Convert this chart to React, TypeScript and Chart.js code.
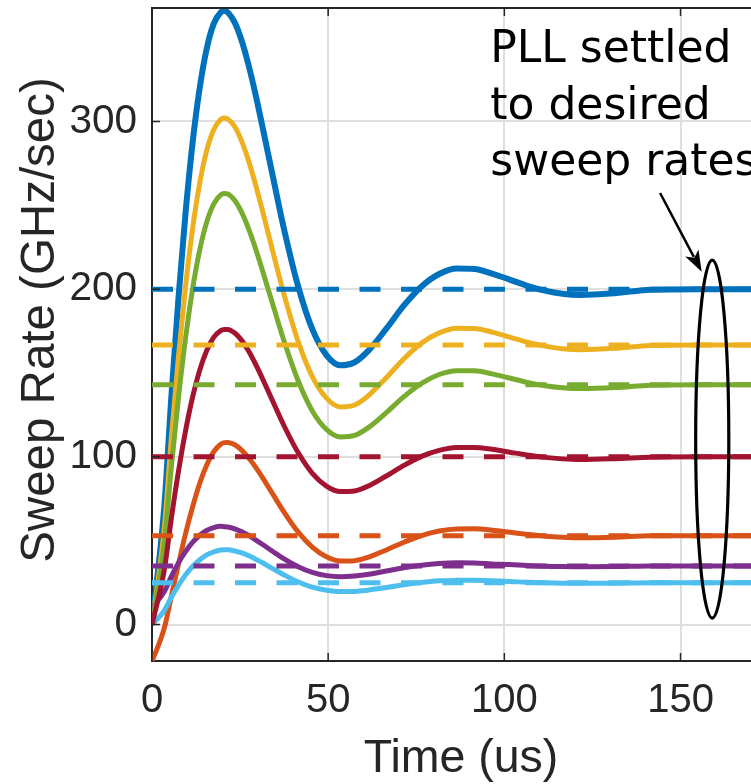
import React, { useEffect, useRef } from "react";
import { Chart, registerables } from "chart.js";

Chart.register(...registerables);

// ---------- data ----------
const TIME_US = [
  0, 3.5, 5.5, 7.5, 9.5, 11.5, 13.5, 15.5, 17.5, 19.5, 20.5, 21.5, 23.5, 25.5, 27.5,
  29.5, 31.5, 34.5, 37.5, 41.5, 45.5, 49.5, 53.5, 57.5, 61.5, 66.5, 71.5, 76.5, 81.5,
  86.5, 91.5, 96.5, 101.5, 106.5, 111.5, 116.5, 121.5, 131.5, 141.5, 155, 172,
];

const RATE_BLUE = [
  0, 70.6, 136.0, 194.5, 245.0, 286.9, 319.4, 343.1, 358.1, 365.0, 365.9, 365.0, 358.9,
  347.8, 332.8, 315.0, 295.4, 265.1, 235.5, 201.5, 176.1, 160.7, 154.6, 156.4, 163.5,
  176.4, 190.3, 201.6, 209.0, 212.3, 212.0, 209.3, 205.7, 202.0, 199.1, 197.2, 196.5,
  197.6, 199.7, 200, 200,
];
const RATE_ORANGE = [
  -22, -2, 17, 36, 54, 70, 84, 95, 103, 107.5, 108.5, 108.6, 107.2, 103.9, 99.2, 93.6,
  87.2, 77.0, 67.0, 55.1, 46.2, 40.4, 37.9, 38.1, 40.3, 44.5, 49.1, 53.1, 55.8, 57.0,
  57.1, 56.3, 55.1, 53.8, 52.7, 52.1, 51.8, 52.1, 52.9, 53, 53,
];
const RATE_YELLOW = [
  0, 57.7, 111.5, 159.6, 201.2, 235.8, 262.7, 282.4, 295.0, 301.2, 302.0, 301.4, 296.8,
  287.9, 275.9, 261.4, 245.5, 220.7, 196.6, 168.7, 147.8, 135.0, 129.8, 130.9, 136.7,
  147.2, 158.5, 167.8, 173.9, 176.7, 176.5, 174.4, 171.4, 168.4, 166.0, 164.5, 163.9,
  164.7, 166.4, 166.7, 166.7,
];
const RATE_PURPLE = [
  10, 19.8, 28.8, 36.8, 43.5, 49.0, 53.1, 56.1, 57.8, 58.6, 58.4, 58.2, 57.1, 55.3, 53.1,
  50.4, 47.6, 43.3, 39.2, 34.5, 31.1, 29.2, 28.6, 29.0, 30.0, 32.0, 33.9, 35.4, 36.4,
  36.8, 36.7, 36.2, 35.8, 35.2, 34.8, 34.6, 34.5, 34.6, 35.0, 35, 35,
];
const RATE_GREEN = [
  0, 48.8, 94.3, 135.0, 170.4, 199.9, 222.9, 239.8, 250.7, 256.2, 257.0, 256.7, 252.9,
  245.6, 235.5, 223.5, 210.1, 189.3, 168.9, 145.2, 127.4, 116.4, 111.9, 112.8, 117.6,
  126.4, 135.9, 143.8, 149.1, 151.4, 151.3, 149.5, 147.0, 144.4, 142.4, 141.2, 140.7,
  141.3, 142.7, 143, 143,
];
const RATE_CYAN = [
  0, 8.4, 16.3, 23.4, 29.5, 34.6, 38.5, 41.6, 43.4, 44.5, 44.6, 44.6, 43.9, 42.7, 41.0,
  38.9, 36.7, 33.1, 29.6, 25.4, 22.3, 20.5, 19.7, 19.8, 20.6, 22.1, 23.8, 25.1, 26.1,
  26.4, 26.5, 26.1, 25.7, 25.2, 24.9, 24.7, 24.6, 24.7, 25.0, 25, 25,
];
const RATE_RED = [
  0, 32.8, 63.5, 91.2, 115.3, 135.5, 151.4, 163.3, 171.2, 175.3, 176.0, 176.0, 173.8,
  169.3, 162.8, 154.8, 146.0, 132.1, 118.4, 102.4, 90.2, 82.6, 79.3, 79.7, 82.7, 88.6,
  94.9, 100.3, 103.9, 105.6, 105.6, 104.5, 102.8, 101.1, 99.7, 98.8, 98.4, 98.9, 99.8,
  100, 100,
];

const TARGET_BLUE = 200;
const TARGET_ORANGE = 53;
const TARGET_YELLOW = 166.7;
const TARGET_PURPLE = 35;
const TARGET_GREEN = 143;
const TARGET_CYAN = 25;
const TARGET_RED = 100;

const X_TICKS = [0, 50, 100, 150];
const Y_TICKS = [0, 100, 200, 300];
const X_MIN = 0;
const X_MAX = 170;
const Y_MIN = -21.7;
const Y_MAX = 367.6;

const X_LABEL = "Time (us)";
const Y_LABEL = "Sweep Rate (GHz/sec)";
const NOTE_LINES = ["PLL settled", "to desired", "sweep rates"];

// ---------- annotation placement (data units) ----------
const NOTE_X = 96;
const NOTE_BASELINES = [335.4, 301.7, 268.0];
const ARROW_FROM = [144.2, 257.3];
const ARROW_TO = [156.0, 210.4];
const ELLIPSE_CENTER = [159.0, 110.6];
const ELLIPSE_RADII = [4.7, 106.7];

// ---------- style ----------
const SANS = "'Liberation Sans', Arial, Helvetica, sans-serif";
const AXIS_COLOR = "#262626";
const GRID_COLOR = "#dfdfdf";

const SERIES = [
  { rates: RATE_BLUE, target: TARGET_BLUE, color: "#0072BD", width: 6 },
  { rates: RATE_ORANGE, target: TARGET_ORANGE, color: "#D95319", width: 5 },
  { rates: RATE_YELLOW, target: TARGET_YELLOW, color: "#EDB120", width: 5 },
  { rates: RATE_PURPLE, target: TARGET_PURPLE, color: "#7E2F8E", width: 5 },
  { rates: RATE_GREEN, target: TARGET_GREEN, color: "#77AC30", width: 5 },
  { rates: RATE_CYAN, target: TARGET_CYAN, color: "#4DBEEE", width: 5 },
  { rates: RATE_RED, target: TARGET_RED, color: "#A2142F", width: 5 },
];

const overlayPlugin = {
  id: "matlabOverlay",
  afterDraw(chart: any) {
    const { ctx, chartArea, scales } = chart;
    const xs = scales.x;
    const ys = scales.y;
    const px = (v: number) => xs.getPixelForValue(v);
    const py = (v: number) => ys.getPixelForValue(v);
    ctx.save();

    // top spine
    ctx.strokeStyle = AXIS_COLOR;
    ctx.lineWidth = 2;
    ctx.beginPath();
    ctx.moveTo(chartArea.left - 1, chartArea.top);
    ctx.lineTo(chartArea.right + 1, chartArea.top);
    ctx.stroke();

    // inward tick marks
    const TL = 8;
    ctx.lineWidth = 1.5;
    ctx.beginPath();
    X_TICKS.forEach((v) => {
      const x = px(v);
      ctx.moveTo(x, chartArea.bottom);
      ctx.lineTo(x, chartArea.bottom - TL);
      ctx.moveTo(x, chartArea.top);
      ctx.lineTo(x, chartArea.top + TL);
    });
    Y_TICKS.forEach((v) => {
      const y = py(v);
      ctx.moveTo(chartArea.left, y);
      ctx.lineTo(chartArea.left + TL, y);
    });
    ctx.stroke();

    // axis titles
    ctx.fillStyle = AXIS_COLOR;
    ctx.font = `46.5px ${SANS}`;
    ctx.textAlign = "center";
    ctx.textBaseline = "alphabetic";
    ctx.fillText(X_LABEL, chartArea.left + 309, 772);
    ctx.save();
    ctx.font = `47.5px ${SANS}`;
    ctx.translate(54, 320);
    ctx.rotate(-Math.PI / 2);
    ctx.fillText(Y_LABEL, 0, 0);
    ctx.restore();

    // annotation text
    ctx.fillStyle = "#000";
    ctx.font = `44px 'DejaVu Sans', Verdana, sans-serif`;
    ctx.textAlign = "left";
    NOTE_LINES.forEach((line, i) => {
      ctx.fillText(line, px(NOTE_X), py(NOTE_BASELINES[i]));
    });

    // arrow
    const x0 = px(ARROW_FROM[0]);
    const y0 = py(ARROW_FROM[1]);
    const x1 = px(ARROW_TO[0]);
    const y1 = py(ARROW_TO[1]);
    const ang = Math.atan2(y1 - y0, x1 - x0);
    const headLen = 21;
    const headHalf = 7.5;
    ctx.strokeStyle = "#000";
    ctx.lineWidth = 2.5;
    ctx.beginPath();
    ctx.moveTo(x0, y0);
    ctx.lineTo(x1 - Math.cos(ang) * headLen * 0.8, y1 - Math.sin(ang) * headLen * 0.8);
    ctx.stroke();
    ctx.fillStyle = "#000";
    ctx.beginPath();
    ctx.moveTo(x1, y1);
    ctx.lineTo(
      x1 - Math.cos(ang) * headLen + Math.sin(ang) * headHalf,
      y1 - Math.sin(ang) * headLen - Math.cos(ang) * headHalf
    );
    ctx.lineTo(
      x1 - Math.cos(ang) * headLen * 0.75,
      y1 - Math.sin(ang) * headLen * 0.75
    );
    ctx.lineTo(
      x1 - Math.cos(ang) * headLen - Math.sin(ang) * headHalf,
      y1 - Math.sin(ang) * headLen + Math.cos(ang) * headHalf
    );
    ctx.closePath();
    ctx.fill();

    // ellipse
    const cx = px(ELLIPSE_CENTER[0]);
    const cy = py(ELLIPSE_CENTER[1]);
    const rx = px(ELLIPSE_CENTER[0] + ELLIPSE_RADII[0]) - cx;
    const ry = cy - py(ELLIPSE_CENTER[1] + ELLIPSE_RADII[1]);
    ctx.lineWidth = 3.2;
    ctx.beginPath();
    ctx.ellipse(cx, cy, rx, ry, 0, 0, Math.PI * 2);
    ctx.stroke();

    ctx.restore();
  },
};

export default function App() {
  const canvasRef = useRef<HTMLCanvasElement | null>(null);

  useEffect(() => {
    if (!canvasRef.current) return;
    const solid = SERIES.map((s, i) => ({
      data: TIME_US.map((t, k) => ({ x: t, y: s.rates[k] })),
      borderColor: s.color,
      backgroundColor: s.color,
      borderWidth: s.width,
      pointRadius: 0,
      cubicInterpolationMode: "monotone" as const,
      fill: false,
      order: 100 - i,
    }));
    const dashed = SERIES.map((s, i) => ({
      data: [
        { x: X_MIN, y: s.target },
        { x: X_MAX, y: s.target },
      ],
      borderColor: s.color,
      backgroundColor: s.color,
      borderWidth: 5,
      borderDash: [21, 20.5],
      borderCapStyle: "butt" as const,
      pointRadius: 0,
      fill: false,
      order: 50 - i,
    }));

    const chart = new Chart(canvasRef.current, {
      type: "line",
      data: { datasets: [...solid, ...dashed] as any },
      options: {
        animation: false,
        responsive: false,
        devicePixelRatio: 1,
        events: [],
        layout: { padding: { top: 8, left: 0, right: 0, bottom: 0 } },
        plugins: {
          legend: { display: false },
          tooltip: { enabled: false },
          title: { display: false },
        },
        scales: {
          x: {
            type: "linear",
            min: X_MIN,
            max: X_MAX,
            afterBuildTicks: (axis: any) => {
              axis.ticks = X_TICKS.map((v) => ({ value: v }));
            },
            afterFit: (axis: any) => {
              axis.height = 123;
              axis.paddingLeft = 0;
              axis.paddingRight = 0;
            },
            grid: { color: GRID_COLOR, lineWidth: 2, drawTicks: false },
            border: { display: true, color: AXIS_COLOR, width: 2 },
            ticks: {
              color: AXIS_COLOR,
              font: { family: SANS, size: 40 },
              padding: 16,
              maxRotation: 0,
              minRotation: 0,
              autoSkip: false,
            },
          },
          y: {
            type: "linear",
            min: Y_MIN,
            max: Y_MAX,
            afterBuildTicks: (axis: any) => {
              axis.ticks = Y_TICKS.map((v) => ({ value: v }));
            },
            afterFit: (axis: any) => {
              axis.width = 152;
              axis.paddingTop = 0;
              axis.paddingBottom = 0;
            },
            grid: { color: GRID_COLOR, lineWidth: 2, drawTicks: false },
            border: { display: true, color: AXIS_COLOR, width: 2 },
            ticks: {
              color: AXIS_COLOR,
              font: { family: SANS, size: 40.5 },
              padding: 15,
              autoSkip: false,
            },
          },
        },
      },
      plugins: [overlayPlugin],
    });
    return () => chart.destroy();
  }, []);

  return (
    <div
      style={{
        position: "fixed",
        left: 0,
        top: 0,
        width: 751,
        height: 784,
        background: "#ffffff",
        overflow: "hidden",
      }}
    >
      <canvas ref={canvasRef} width={751} height={784} style={{ display: "block" }} />
    </div>
  );
}
